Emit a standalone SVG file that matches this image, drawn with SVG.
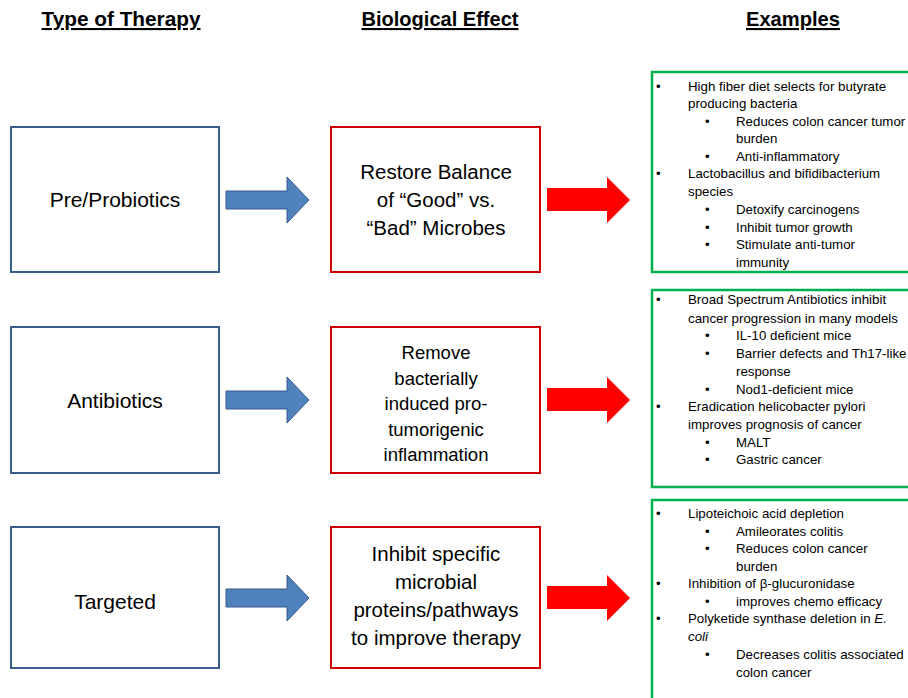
<svg xmlns="http://www.w3.org/2000/svg" width="908" height="698" viewBox="0 0 908 698">
<style>
.h{font-family:"Liberation Sans",Arial,sans-serif;font-weight:bold;font-size:21px;text-anchor:middle;text-decoration:underline;fill:#000}
.bbox{fill:#fff;stroke:#385D8A;stroke-width:2}
.rbox{fill:#fff;stroke:#D00000;stroke-width:2}
.gbox{fill:#fff;stroke:#00B050;stroke-width:2.5}
.bt{font-family:"Liberation Sans",Arial,sans-serif;font-size:21px;text-anchor:middle;fill:#000}
.rt{font-family:"Liberation Sans",Arial,sans-serif;font-size:20.5px;text-anchor:middle;fill:#000}
.rt2{font-family:"Liberation Sans",Arial,sans-serif;font-size:18.5px;text-anchor:middle;fill:#000}
.l{font-family:"Liberation Sans",Arial,sans-serif;font-size:13.3px;fill:#000}
.barrow{fill:#4F81BD;stroke:#385D8A;stroke-width:1}
.rarrow{fill:#FF0000;stroke:none}
</style>
<rect width="908" height="698" fill="#fff"/>
<g id="headers">
<text class="h" x="121" y="26" textLength="159" lengthAdjust="spacingAndGlyphs">Type of Therapy</text>
<text class="h" x="440" y="26" textLength="157" lengthAdjust="spacingAndGlyphs">Biological Effect</text>
<text class="h" x="793" y="26" textLength="94" lengthAdjust="spacingAndGlyphs">Examples</text>
</g>
<g id="pre-probiotics"><rect class="bbox" x="11" y="127" width="208" height="145"/><text class="bt" x="115" y="207">Pre/Probiotics</text></g>
<g id="antibiotics"><rect class="bbox" x="11" y="327" width="208" height="146"/><text class="bt" x="115" y="408">Antibiotics</text></g>
<g id="targeted"><rect class="bbox" x="11" y="527" width="208" height="141"/><text class="bt" x="115" y="609">Targeted</text></g>
<g id="restore-balance"><rect class="rbox" x="331" y="127" width="209" height="145"/>
<text class="rt" x="436" y="179">Restore Balance</text>
<text class="rt" x="436" y="207">of “Good” vs.</text>
<text class="rt" x="436" y="235">“Bad” Microbes</text></g>
<g id="remove-inflammation"><rect class="rbox" x="331" y="327" width="209" height="146"/>
<text class="rt2" x="436" y="359">Remove</text>
<text class="rt2" x="436" y="385">bacterially</text>
<text class="rt2" x="436" y="410">induced pro-</text>
<text class="rt2" x="436" y="436">tumorigenic</text>
<text class="rt2" x="436" y="461">inflammation</text></g>
<g id="inhibit-proteins"><rect class="rbox" x="331" y="527" width="209" height="141"/>
<text class="rt" x="436" y="561">Inhibit specific</text>
<text class="rt" x="436" y="589">microbial</text>
<text class="rt" x="436" y="617">proteins/pathways</text>
<text class="rt" x="436" y="645">to improve therapy</text></g>
<g id="examples-1"><rect class="gbox" x="652" y="72" width="270" height="200"/>
<text class="l" x="656" y="91">•</text><text class="l" x="688" y="91">High fiber diet selects for butyrate</text>
<text class="l" x="688" y="108">producing bacteria</text>
<text class="l" x="705" y="126">•</text><text class="l" x="736" y="126">Reduces colon cancer tumor</text>
<text class="l" x="736" y="143">burden</text>
<text class="l" x="705" y="161">•</text><text class="l" x="736" y="161">Anti-inflammatory</text>
<text class="l" x="656" y="178">•</text><text class="l" x="688" y="178">Lactobacillus and bifidibacterium</text>
<text class="l" x="688" y="196">species</text>
<text class="l" x="705" y="214">•</text><text class="l" x="736" y="214">Detoxify carcinogens</text>
<text class="l" x="705" y="232">•</text><text class="l" x="736" y="232">Inhibit tumor growth</text>
<text class="l" x="705" y="249">•</text><text class="l" x="736" y="249">Stimulate anti-tumor</text>
<text class="l" x="736" y="267">immunity</text></g>
<g id="examples-2"><rect class="gbox" x="652" y="290" width="270" height="197"/>
<text class="l" x="656" y="304">•</text><text class="l" x="688" y="304">Broad Spectrum Antibiotics inhibit</text>
<text class="l" x="688" y="323">cancer progression in many models</text>
<text class="l" x="705" y="340">•</text><text class="l" x="736" y="340">IL-10 deficient mice</text>
<text class="l" x="705" y="358">•</text><text class="l" x="736" y="358">Barrier defects and Th17-like</text>
<text class="l" x="736" y="376">response</text>
<text class="l" x="705" y="394">•</text><text class="l" x="736" y="394">Nod1-deficient mice</text>
<text class="l" x="656" y="411">•</text><text class="l" x="688" y="411">Eradication helicobacter pylori</text>
<text class="l" x="688" y="429">improves prognosis of cancer</text>
<text class="l" x="705" y="447">•</text><text class="l" x="736" y="447">MALT</text>
<text class="l" x="705" y="464">•</text><text class="l" x="736" y="464">Gastric cancer</text></g>
<g id="examples-3"><rect class="gbox" x="652" y="500" width="270" height="220"/>
<text class="l" x="656" y="518">•</text><text class="l" x="688" y="518">Lipoteichoic acid depletion</text>
<text class="l" x="705" y="536">•</text><text class="l" x="736" y="536">Amileorates colitis</text>
<text class="l" x="705" y="553">•</text><text class="l" x="736" y="553">Reduces colon cancer</text>
<text class="l" x="736" y="571">burden</text>
<text class="l" x="656" y="588">•</text><text class="l" x="688" y="588">Inhibition of β-glucuronidase</text>
<text class="l" x="705" y="606">•</text><text class="l" x="736" y="606">improves chemo efficacy</text>
<text class="l" x="656" y="623">•</text><text class="l" x="688" y="623">Polyketide synthase deletion in <tspan font-style="italic">E.</tspan></text>
<text class="l" x="688" y="641" font-style="italic">coli</text>
<text class="l" x="705" y="659">•</text><text class="l" x="736" y="659">Decreases colitis associated</text>
<text class="l" x="736" y="677">colon cancer</text></g>
<g id="connectors">
<path class="barrow" d="M226,191 H287 V177 L309,200 L287,223 V209 H226 Z"/>
<path class="barrow" d="M226,391 H287 V377 L309,400 L287,423 V409 H226 Z"/>
<path class="barrow" d="M226,589 H287 V575 L309,598 L287,621 V607 H226 Z"/>
<path class="rarrow" d="M547,188 H607 V177 L630,200 L607,223 V211 H547 Z"/>
<path class="rarrow" d="M547,388 H607 V377 L630,400 L607,423 V411 H547 Z"/>
<path class="rarrow" d="M547,586 H607 V575 L630,598 L607,621 V609 H547 Z"/>
</g>
</svg>
